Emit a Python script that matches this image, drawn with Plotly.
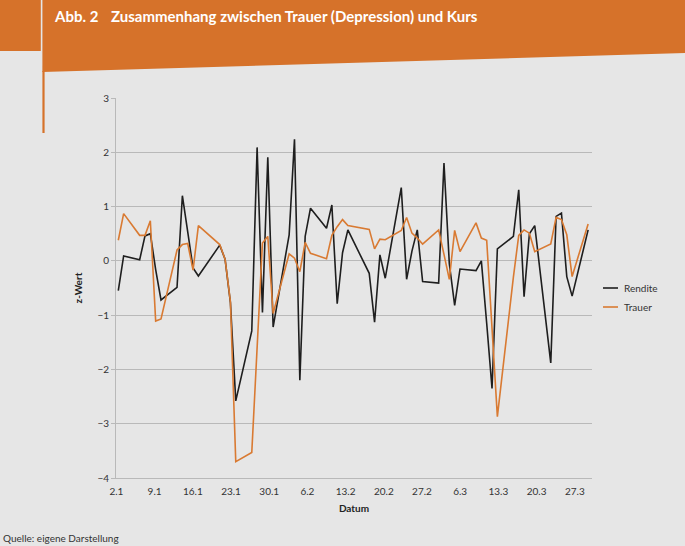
import plotly.graph_objects as go
import pandas as pd

# ---------------- data ----------------
dates = ["2014-01-02", "2014-01-03", "2014-01-06", "2014-01-07", "2014-01-08", "2014-01-09", "2014-01-10",
         "2014-01-13", "2014-01-14", "2014-01-15", "2014-01-16", "2014-01-17",
         "2014-01-21", "2014-01-22", "2014-01-23", "2014-01-24",
         "2014-01-27", "2014-01-28", "2014-01-29", "2014-01-30", "2014-01-31",
         "2014-02-03", "2014-02-04", "2014-02-05", "2014-02-06", "2014-02-07",
         "2014-02-10", "2014-02-11", "2014-02-12", "2014-02-13", "2014-02-14",
         "2014-02-18", "2014-02-19", "2014-02-20", "2014-02-21",
         "2014-02-24", "2014-02-25", "2014-02-26", "2014-02-27", "2014-02-28",
         "2014-03-03", "2014-03-04", "2014-03-05", "2014-03-06", "2014-03-07",
         "2014-03-10", "2014-03-11", "2014-03-12", "2014-03-13", "2014-03-14",
         "2014-03-17", "2014-03-18", "2014-03-19", "2014-03-20", "2014-03-21",
         "2014-03-24", "2014-03-25", "2014-03-26", "2014-03-27", "2014-03-28",
         "2014-03-31"]

rendite = [-0.55, 0.09, 0.02, 0.46, 0.50, -0.16, -0.72,
           -0.49, 1.20, 0.55, -0.13, -0.28,
           0.29, 0.03, -0.77, -2.58,
           -1.29, 2.09, -0.95, 1.91, -1.22,
           0.48, 2.24, -2.20, 0.45, 0.97,
           0.60, 1.03, -0.79, 0.15, 0.57,
           -0.23, -1.13, 0.11, -0.32,
           1.35, -0.34, 0.18, 0.57, -0.38,
           -0.41, 1.80, -0.05, -0.82, -0.15,
           -0.18, 0.00, -1.15, -2.35, 0.22,
           0.45, 1.31, -0.66, 0.50, 0.65,
           -1.88, 0.82, 0.88, -0.29, -0.65,
           0.57]

trauer = [0.38, 0.87, 0.47, 0.47, 0.74, -1.11, -1.07,
          0.20, 0.30, 0.32, -0.17, 0.65,
          0.30, 0.03, -0.75, -3.70,
          -3.53, -1.60, 0.33, 0.45, -0.97,
          0.13, 0.05, -0.20, 0.34, 0.14,
          0.04, 0.47, 0.63, 0.76, 0.65,
          0.58, 0.22, 0.40, 0.39,
          0.56, 0.80, 0.51, 0.42, 0.31,
          0.57, 0.12, -0.34, 0.56, 0.17,
          0.70, 0.42, 0.38, -1.30, -2.87,
          -0.30, 0.47, 0.57, 0.51, 0.17,
          0.31, 0.80, 0.76, 0.48, -0.29,
          0.68]

tick_dates = ["2014-01-02", "2014-01-09", "2014-01-16", "2014-01-23", "2014-01-30", "2014-02-06",
              "2014-02-13", "2014-02-20", "2014-02-27", "2014-03-06", "2014-03-13", "2014-03-20",
              "2014-03-27"]
tick_labels = ["2.1", "9.1", "16.1", "23.1", "30.1", "6.2", "13.2", "20.2", "27.2", "6.3",
               "13.3", "20.3", "27.3"]
y_ticks = [-4, -3, -2, -1, 0, 1, 2, 3]

series_names = ["Rendite", "Trauer"]
title_num = "Abb. 2"
title_text = "Zusammenhang zwischen Trauer (Depression) und Kurs"
source_text = "Quelle: eigene Darstellung"

# ---------------- layout helpers ----------------
W, H = 685, 546
L, R, T, B = 116, 93, 98, 68
PW, PH = W - L - R, H - T - B

def fx(p):
    return (p - L) / PW

def fy(p):
    return (H - B - p) / PH

ORANGE = "#d6722a"
LINE_OR = "#d97a32"
BG = "#e6e6e6"
GRID = "#b9b9b9"
FONT = "Lato"

base = pd.Timestamp(dates[0])
# main (data) axis scale
day_px, first_px = 5.339, 118.3
x_range = [base + pd.Timedelta(days=(L - first_px) / day_px),
           base + pd.Timedelta(days=(W - R - first_px) / day_px)]
# label axis scale
lab_px, lab_first = 5.457, 116.4
lab_range = [base + pd.Timedelta(days=(L - lab_first) / lab_px),
             base + pd.Timedelta(days=(W - R - lab_first) / lab_px)]

fig = go.Figure()
fig.add_trace(go.Scatter(x=dates, y=rendite, mode="lines", name=series_names[0],
                         line=dict(color="#1e1e1e", width=1.6), showlegend=False))
fig.add_trace(go.Scatter(x=dates, y=trauer, mode="lines", name=series_names[1],
                         line=dict(color=LINE_OR, width=1.6), showlegend=False))
# carrier for label axis
fig.add_trace(go.Scatter(x=tick_dates, y=[None] * len(tick_dates), xaxis="x2", mode="lines",
                         showlegend=False, hoverinfo="skip"))

shapes = []
shapes.append(dict(type="rect", xref="paper", yref="paper", x0=fx(0), x1=fx(40.8), y0=fy(51), y1=fy(0),
                   fillcolor=ORANGE, line=dict(width=0), layer="below"))
path = "M {} {} L {} {} L {} {} L {} {} Z".format(fx(42.4), fy(0), fx(W), fy(0), fx(W), fy(53), fx(42.4), fy(72))
shapes.append(dict(type="path", xref="paper", yref="paper", path=path,
                   fillcolor=ORANGE, line=dict(width=0), layer="below"))
shapes.append(dict(type="rect", xref="paper", yref="paper", x0=fx(42.4), x1=fx(44.6), y0=fy(133), y1=fy(71),
                   fillcolor=ORANGE, line=dict(width=0), layer="below"))
leg_y = [288, 307]
leg_col = ["#1e1e1e", LINE_OR]
for yy, cc in zip(leg_y, leg_col):
    shapes.append(dict(type="line", xref="paper", yref="paper", x0=fx(603), x1=fx(618), y0=fy(yy), y1=fy(yy),
                       line=dict(color=cc, width=1.6)))

annotations = [
    dict(text=title_num, x=fx(52), y=fy(16), xref="paper", yref="paper", xanchor="left", yanchor="middle",
         showarrow=False, font=dict(family=FONT, size=15, color="white", weight="bold")),
    dict(text=title_text, x=fx(109), y=fy(16), xref="paper", yref="paper", xanchor="left", yanchor="middle",
         showarrow=False, font=dict(family=FONT, size=15, color="white", weight="bold")),
    dict(text=source_text, x=fx(1), y=fy(538), xref="paper", yref="paper", xanchor="left", yanchor="middle",
         showarrow=False, font=dict(family=FONT, size=10, color="#333333")),
]
for yy, nm in zip(leg_y, series_names):
    annotations.append(dict(text=nm, x=fx(622), y=fy(yy), xref="paper", yref="paper", xanchor="left",
                            yanchor="middle", showarrow=False, font=dict(family=FONT, size=10, color="#333333")))

fig.update_layout(
    width=W, height=H,
    margin=dict(l=L, r=R, t=T, b=B),
    paper_bgcolor=BG, plot_bgcolor=BG,
    font=dict(family=FONT, size=10, color="#333333"),
    showlegend=False,
    xaxis=dict(type="date", range=x_range, showgrid=False, zeroline=False, showline=True,
               linecolor=GRID, linewidth=1, showticklabels=False, ticks=""),
    xaxis2=dict(type="date", overlaying="x", anchor="y", side="bottom", range=lab_range,
                tickmode="array", tickvals=tick_dates, ticktext=tick_labels, showgrid=False,
                zeroline=False, showline=False, ticks="outside", ticklen=4, tickcolor="rgba(0,0,0,0)",
                tickfont=dict(size=10, color="#333333"),
                title=dict(text="Datum", font=dict(size=10, weight="bold", color="#222222"), standoff=8)),
    yaxis=dict(range=[-4, 3], tickmode="array", tickvals=y_ticks, showgrid=True, gridcolor=GRID,
               gridwidth=1, zeroline=False, showline=True, linecolor=GRID, linewidth=1,
               ticks="outside", ticklen=4, tickcolor=GRID, tickfont=dict(size=10, color="#333333"),
               title=dict(text="z-Wert", font=dict(size=10, weight="bold", color="#222222"), standoff=12)),
    shapes=shapes,
    annotations=annotations,
)

fig.write_html("out.html", config={"displayModeBar": False},
               post_script="document.body.style.margin='0px';document.body.style.overflow='hidden';")
